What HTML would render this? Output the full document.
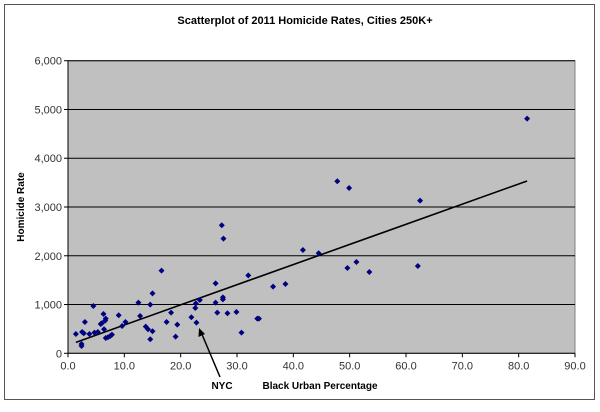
<!DOCTYPE html>
<html><head><meta charset="utf-8"><style>
html,body{margin:0;padding:0;background:#fff;}
svg{display:block;font-family:"Liberation Sans",Arial,sans-serif;}
</style></head><body>
<svg id="chart" width="600" height="412" viewBox="0 0 600 412" xmlns="http://www.w3.org/2000/svg">
<rect x="4.5" y="4.5" width="590" height="395" fill="#fff" stroke="#555" stroke-width="1"/>
<text x="305" y="24" text-anchor="middle" font-size="11" font-weight="bold" fill="#000">Scatterplot of 2011 Homicide Rates, Cities 250K+</text>
<rect x="68" y="60.7" width="507" height="292.6" fill="#c0c0c0" stroke="#808080" stroke-width="1"/>
<g id="grid"></g>
<g id="axes"></g>
<g id="trend"></g>
<g id="points"></g>
<text transform="translate(24,207) rotate(-90)" text-anchor="middle" font-size="10" font-weight="bold" fill="#000">Homicide Rate</text>
<text x="320" y="389" text-anchor="middle" font-size="10" font-weight="bold" fill="#000">Black Urban Percentage</text>
<text x="222" y="389" text-anchor="middle" font-size="10" font-weight="bold" fill="#000">NYC</text>
<line x1="220" y1="377" x2="201" y2="332" stroke="#000" stroke-width="1.5"/>
<polygon points="199,328 198.5,337 205,334" fill="#000"/>
</svg>
<script>
const xs=[1.4,2.4,2.4,2.5,2.8,3.0,3.8,4.5,4.7,5.3,5.8,6.0,6.3,6.4,6.6,6.7,6.7,7.1,7.5,7.8,9.0,9.6,10.2,12.5,12.8,13.8,14.2,14.6,14.6,15.0,15.0,16.6,17.5,18.3,19.1,19.4,21.9,22.6,22.7,22.8,23.4,26.2,26.2,26.5,27.3,27.5,27.5,27.6,28.3,29.9,30.8,32.0,33.6,33.9,36.4,38.6,41.7,44.5,47.8,49.9,49.6,51.2,53.5,62.1,62.5,81.5];
const ys=[396,190,150,437,410,642,396,970,424,437,600,615,806,492,670,711,314,328,355,383,779,560,642,1039,765,547,492,998,287,451,1230,1695,642,834,342,588,738,930,1025,629,1094,1435,1039,834,2625,1148,1107,2351,820,848,424,1599,711,711,1367,1422,2119,2051,3527,3390,1750,1873,1668,1791,3131,4812];
const xTicks=[0,10,20,30,40,50,60,70,80,90];
const yTicks=[0,1000,2000,3000,4000,5000,6000];
const xTickLabels=["0.0","10.0","20.0","30.0","40.0","50.0","60.0","70.0","80.0","90.0"];
const yTickLabels=["0","1,000","2,000","3,000","4,000","5,000","6,000"];
const NS="http://www.w3.org/2000/svg";
const L=68,R=575,T=60.7,B=353.3;
function sx(v){return L+(v-0)/(90-0)*(R-L);}
function sy(v){return B-(v-0)/(6000-0)*(B-T);}
function mk(tag,attrs,parent){const e=document.createElementNS(NS,tag);for(const k in attrs)e.setAttribute(k,attrs[k]);parent.appendChild(e);return e;}
const grid=document.getElementById('grid'),axes=document.getElementById('axes'),pts=document.getElementById('points'),trend=document.getElementById('trend');
yTicks.forEach((v,i)=>{
  if(i>0){const g=mk('line',{x1:L,x2:R,y1:sy(v),y2:sy(v),stroke:'#000','stroke-width':1},grid);
  
  }
  const t=mk('line',{x1:L-4,x2:L,y1:sy(v),y2:sy(v),stroke:'#000'},axes);
  
  
  const lb=mk('text',{x:L-6,y:sy(v)+4,'text-anchor':'end','font-size':11,fill:'#333'},axes);
  lb.textContent=yTickLabels[i];
  
  
});
xTicks.forEach((v,i)=>{
  const t=mk('line',{x1:sx(v),x2:sx(v),y1:B,y2:B+4,stroke:'#000'},axes);
  
  
  const lb=mk('text',{x:sx(v),y:B+16,'text-anchor':'middle','font-size':11,fill:'#333'},axes);
  lb.textContent=xTickLabels[i];
  
  
});
const xa=mk('line',{x1:L,x2:R,y1:B,y2:B,stroke:'#000'},axes);


const ya=mk('line',{x1:L,x2:L,y1:T,y2:B,stroke:'#000'},axes);


// linear regression trendline
const n=xs.length;let mx=0,my=0;for(let i=0;i<n;i++){mx+=xs[i];my+=ys[i];}mx/=n;my/=n;
let sxy=0,sxx=0;for(let i=0;i<n;i++){sxy+=(xs[i]-mx)*(ys[i]-my);sxx+=(xs[i]-mx)*(xs[i]-mx);}
const slope=sxy/sxx,icpt=my-slope*mx;
const xmin=Math.min(...xs),xmax=Math.max(...xs);
const tl=mk('line',{x1:sx(xmin),y1:sy(icpt+slope*xmin),x2:sx(xmax),y2:sy(icpt+slope*xmax),stroke:'#000','stroke-width':1.6},trend);


xs.forEach((x,i)=>{
  const cx=sx(x),cy=sy(ys[i]);
  const p=mk('polygon',{points:`${cx},${cy-3} ${cx+3},${cy} ${cx},${cy+3} ${cx-3},${cy}`,fill:'#000080'},pts);
  
  
});
</script>
</body></html>
